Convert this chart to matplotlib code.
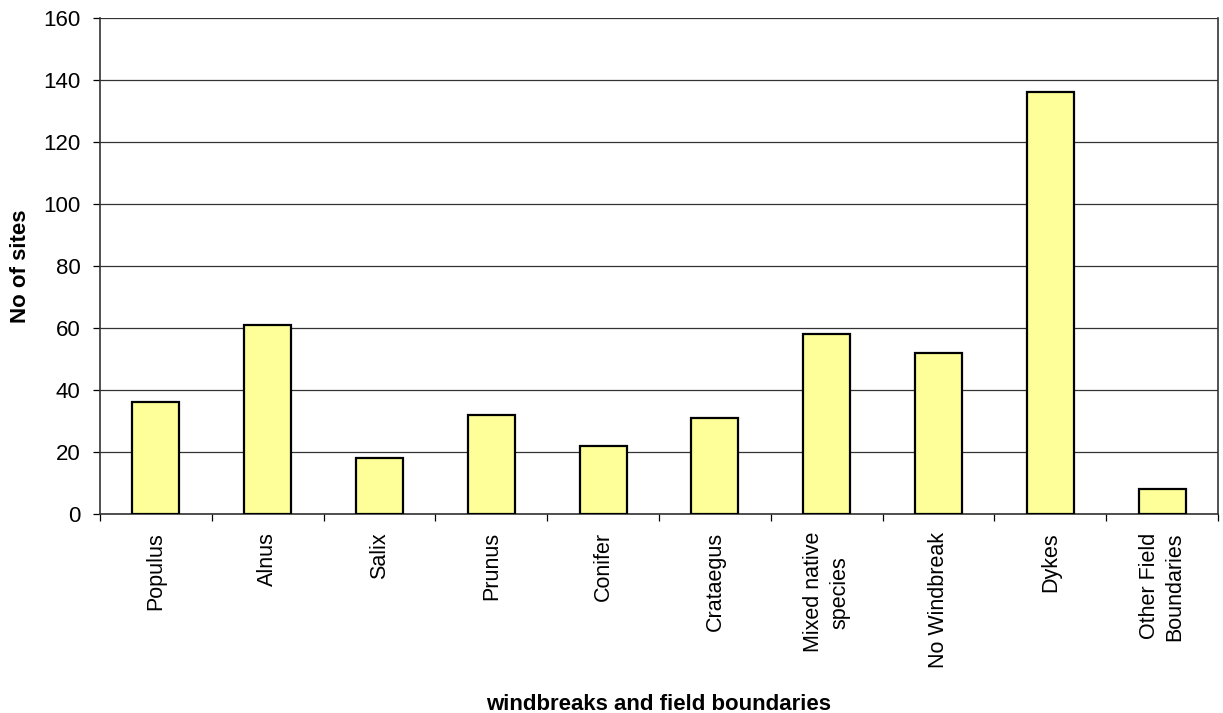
import matplotlib.pyplot as plt
import numpy as np

plt.rcParams['font.family'] = ['Liberation Sans', 'DejaVu Sans']

categories = ["Populus", "Alnus", "Salix", "Prunus", "Conifer", "Crataegus",
              "Mixed native\nspecies", "No Windbreak", "Dykes",
              "Other Field\nBoundaries"]
sites = [36, 61, 18, 32, 22, 31, 58, 52, 136, 8]
y_ticks = [0, 20, 40, 60, 80, 100, 120, 140, 160]

fig = plt.figure(figsize=(12.23, 7.13), dpi=100)
ax = fig.add_axes([100 / 1223, 1 - 514 / 713, 1118 / 1223, 496 / 713])

x = np.arange(len(categories))
ax.bar(x, sites, width=0.42, color="#FFFF99", edgecolor="black", linewidth=1.6, zorder=3)

ax.set_xlim(-0.5, len(categories) - 0.5)
ax.set_ylim(0, 160)
ax.set_yticks(y_ticks)
ax.yaxis.grid(True, color="#333333", linewidth=0.9, zorder=0)

# ticks between categories, labels centred on bars
ax.set_xticks(np.arange(len(categories) + 1) - 0.5)
ax.set_xticklabels([])
ax.set_xticks(x, minor=True)
ax.set_xticklabels(categories, minor=True, rotation=90, fontsize=15.5,
                   va="top", ha="center", linespacing=1.3)
ax.tick_params(axis="x", which="minor", length=0, pad=13)
ax.tick_params(axis="x", which="major", length=5, width=0.9, direction="out")
ax.tick_params(axis="y", length=5, width=0.9, direction="out", labelsize=16, pad=9)

ax.spines["top"].set_visible(False)
for s in ["left", "bottom", "right"]:
    ax.spines[s].set_linewidth(1.2)
    ax.spines[s].set_color("#333333")

fig.text(21 / 1223, 1 - 266 / 713, "No of sites", rotation=90, ha="center", va="center",
         fontsize=16, fontweight="bold")
fig.text((100 + 1218) / 2 / 1223, 1 - 704 / 713, "windbreaks and field boundaries",
         ha="center", va="center", fontsize=16, fontweight="bold")

fig.savefig("out.png", dpi=100)
